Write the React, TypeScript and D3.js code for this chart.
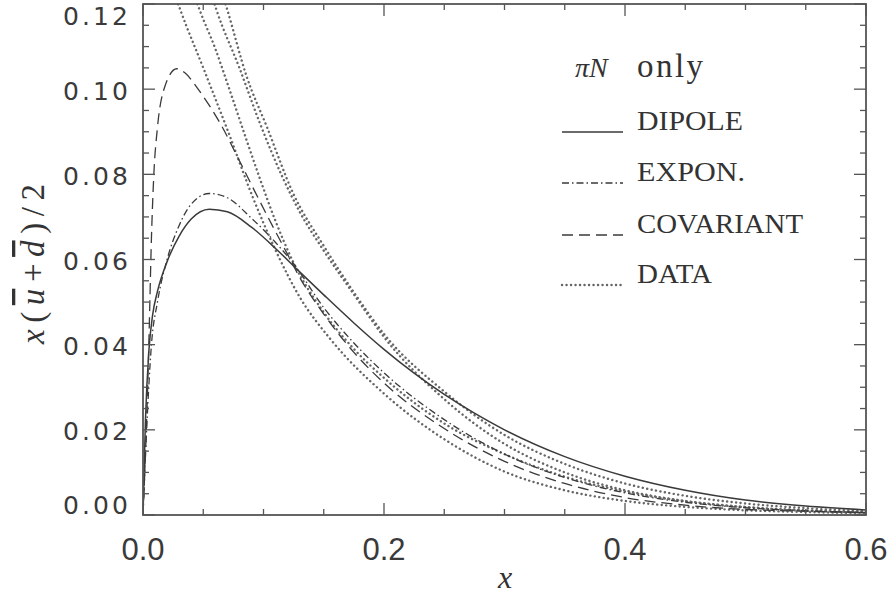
import React from 'react';
import * as d3 from 'd3';

// ---- axis ticks ----
const xTicks = [0, 0.2, 0.4, 0.6];
const xTickLabels = ['0.0', '0.2', '0.4', '0.6'];
const xMinorTicks = [0.05, 0.1, 0.15, 0.25, 0.3, 0.35, 0.45, 0.5, 0.55];
const yTicks = [0, 0.02, 0.04, 0.06, 0.08, 0.1, 0.12];
const yTickLabels = ['0.00', '0.02', '0.04', '0.06', '0.08', '0.10', '0.12'];
const yMinorTicks = d3.range(0, 25).map((i) => i * 0.005).filter((v) => Math.round(v * 1000) % 20 !== 0);

// ---- series (x, value) ----
const dipole: [number, number][] = [
  [0, 0], [0.002, 0.022], [0.005, 0.039], [0.008, 0.047], [0.012, 0.0525], [0.02, 0.0595],
  [0.03, 0.0655], [0.04, 0.0695], [0.055, 0.0718], [0.07, 0.0712], [0.09, 0.0676],
  [0.11, 0.0626], [0.13, 0.0571], [0.15, 0.0517], [0.175, 0.0451], [0.2, 0.0389],
  [0.225, 0.0333], [0.25, 0.0283], [0.275, 0.0239], [0.3, 0.02], [0.35, 0.0137],
  [0.4, 0.0091], [0.45, 0.0058], [0.5, 0.0035], [0.55, 0.0021], [0.6, 0.0012],
];
const expon: [number, number][] = [
  [0, 0], [0.003, 0.02], [0.007, 0.04], [0.012, 0.05], [0.02, 0.06], [0.03, 0.068],
  [0.04, 0.073], [0.055, 0.0755], [0.07, 0.0745], [0.09, 0.0697], [0.11, 0.064],
  [0.125, 0.059], [0.15, 0.0487], [0.175, 0.0404], [0.2, 0.0334], [0.25, 0.0224],
  [0.3, 0.0143], [0.35, 0.0088], [0.4, 0.0052], [0.45, 0.003], [0.5, 0.0017],
  [0.55, 0.001], [0.6, 0.0006],
];
const covariant: [number, number][] = [
  [0, 0], [0.003, 0.022], [0.005, 0.042], [0.007, 0.065], [0.009, 0.08], [0.012, 0.091],
  [0.018, 0.1005], [0.028, 0.1048], [0.035, 0.1038], [0.045, 0.1003], [0.055, 0.0962],
  [0.064, 0.092], [0.08, 0.0832], [0.091, 0.077], [0.108, 0.0676], [0.12, 0.0612],
  [0.13, 0.0558], [0.15, 0.0472], [0.175, 0.0382], [0.2, 0.031], [0.25, 0.0203],
  [0.3, 0.0126], [0.35, 0.0074], [0.4, 0.0041], [0.45, 0.0023], [0.5, 0.0013],
  [0.55, 0.0009], [0.6, 0.0006],
];
const dataA: [number, number][] = [
  [0.022, 0.126], [0.031, 0.1186], [0.05, 0.105], [0.07, 0.0905], [0.091, 0.0747],
  [0.11, 0.0622], [0.13, 0.0512], [0.155, 0.0415], [0.2, 0.0285], [0.25, 0.0178],
  [0.3, 0.0102], [0.35, 0.0058], [0.4, 0.0033], [0.45, 0.0019], [0.5, 0.0011],
  [0.55, 0.0007], [0.6, 0.0004],
];
const dataB: [number, number][] = [
  [0.038, 0.126], [0.047, 0.1186], [0.06, 0.1095], [0.07, 0.1014], [0.086, 0.088],
  [0.097, 0.079], [0.11, 0.069], [0.125, 0.0592], [0.15, 0.0476], [0.175, 0.039],
  [0.2, 0.0322], [0.25, 0.0215], [0.3, 0.0143], [0.35, 0.009], [0.4, 0.0055],
  [0.45, 0.0032], [0.5, 0.0018], [0.55, 0.001], [0.6, 0.0006],
];
const dataC: [number, number][] = [
  [0.053, 0.126], [0.061, 0.1186], [0.08, 0.105], [0.097, 0.092], [0.116, 0.0792],
  [0.13, 0.0712], [0.149, 0.0625], [0.175, 0.0518], [0.2, 0.0418], [0.25, 0.0272],
  [0.3, 0.0167], [0.35, 0.01], [0.4, 0.0058], [0.45, 0.0033], [0.5, 0.0019],
  [0.55, 0.0011], [0.6, 0.0006],
];
const dataD: [number, number][] = [
  [0.062, 0.126], [0.07, 0.1186], [0.086, 0.103], [0.103, 0.091], [0.1245, 0.0756],
  [0.15, 0.0632], [0.175, 0.0523], [0.2, 0.0425], [0.25, 0.029], [0.3, 0.0188],
  [0.35, 0.012], [0.4, 0.0074], [0.45, 0.0045], [0.5, 0.0027], [0.55, 0.0016],
  [0.6, 0.0009],
];
const legendLabels = ['DIPOLE', 'EXPON.', 'COVARIANT', 'DATA'];

const W = 889;
const H = 602;
const L = 143, R = 866, T = 4, B = 515;

const styles = [
  { stroke: '#3a3a3a', width: 1.5, dash: 'none', cap: 'butt' },
  { stroke: '#3a3a3a', width: 1.3, dash: '7,3,1.5,3', cap: 'butt' },
  { stroke: '#3a3a3a', width: 1.3, dash: '11,6', cap: 'butt' },
  { stroke: '#666', width: 2.4, dash: '0.1,4.4', cap: 'round' },
];

export default function App() {
  const x = d3.scaleLinear().domain([0, 0.6]).range([L, R]);
  const y = d3.scaleLinear().domain([0, 0.12]).range([B, T]);
  const line = d3
    .line<[number, number]>()
    .x((d) => x(d[0]))
    .y((d) => y(d[1]))
    .curve(d3.curveMonotoneX);

  const series: { d: [number, number][]; s: number }[] = [
    { d: dataA, s: 3 },
    { d: dataB, s: 3 },
    { d: dataC, s: 3 },
    { d: dataD, s: 3 },
    { d: covariant, s: 2 },
    { d: expon, s: 1 },
    { d: dipole, s: 0 },
  ];

  const legendX0 = 562, legendX1 = 623, legendTextX = 637;
  const legendBase = [130, 181, 233, 283];
  const legendWidths = [106, 108, 166, 75];

  return (
    <svg
      width={W}
      height={H}
      style={{ position: 'absolute', left: 0, top: 0, background: '#fff' }}
    >
      <defs>
        <clipPath id="plot">
          <rect x={L} y={T} width={R - L} height={B - T} />
        </clipPath>
      </defs>
      <rect x={0} y={0} width={W} height={H} fill="#fff" />

      {/* curves */}
      <g clipPath="url(#plot)" fill="none">
        {series.map((sr, i) => {
          const st = styles[sr.s];
          return (
            <path
              key={i}
              d={line(sr.d) || ''}
              stroke={st.stroke}
              strokeWidth={st.width}
              strokeDasharray={st.dash}
              strokeLinecap={st.cap as any}
            />
          );
        })}
      </g>

      {/* frame */}
      <rect x={L} y={T} width={R - L} height={B - T} fill="none" stroke="#555" strokeWidth={1.8} />

      {/* ticks */}
      <g stroke="#555" strokeWidth={1.3}>
        {yTicks.map((v) => (
          <g key={'yt' + v}>
            <line x1={L} x2={L + 12} y1={y(v)} y2={y(v)} />
            <line x1={R} x2={R - 12} y1={y(v)} y2={y(v)} />
          </g>
        ))}
        {yMinorTicks.map((v) => (
          <g key={'ym' + v}>
            <line x1={L} x2={L + 6} y1={y(v)} y2={y(v)} />
            <line x1={R} x2={R - 6} y1={y(v)} y2={y(v)} />
          </g>
        ))}
        {xTicks.map((v) => (
          <g key={'xt' + v}>
            <line x1={x(v)} x2={x(v)} y1={B} y2={B - 12} />
            <line x1={x(v)} x2={x(v)} y1={T} y2={T + 12} />
          </g>
        ))}
        {xMinorTicks.map((v) => (
          <g key={'xm' + v}>
            <line x1={x(v)} x2={x(v)} y1={B} y2={B - 6} />
            <line x1={x(v)} x2={x(v)} y1={T} y2={T + 6} />
          </g>
        ))}
      </g>

      {/* y tick labels */}
      <g fontFamily="'DejaVu Sans', 'Liberation Sans', sans-serif" fontSize={25} fill="#3a3a3a">
        {yTicks.map((v, i) => (
          <text
            key={'yl' + v}
            x={128}
            y={Math.min(505, Math.max(16, y(v) + 2))}
            textAnchor="end"
            dominantBaseline="central"
            textLength={65}
            lengthAdjust="spacing"
          >
            {yTickLabels[i]}
          </text>
        ))}
      </g>

      {/* x tick labels */}
      <g fontFamily="'Liberation Sans', Arial, sans-serif" fontSize={31} fill="#3a3a3a">
        {xTicks.map((v, i) => (
          <text key={'xl' + v} x={x(v)} y={560} textAnchor="middle">
            {xTickLabels[i]}
          </text>
        ))}
      </g>

      {/* axis titles */}
      <text
        x={505}
        y={588}
        textAnchor="middle"
        fontFamily="'Liberation Serif', 'DejaVu Serif', serif"
        fontStyle="italic"
        fontSize={32}
        fill="#333"
      >
        x
      </text>
      <text
        transform="translate(44,264) rotate(-90)"
        textAnchor="middle"
        fontFamily="'Liberation Serif', 'DejaVu Serif', serif"
        fontSize={33}
        fill="#333"
        textLength={160}
        lengthAdjust="spacing"
      >
        <tspan fontStyle="italic">x</tspan>
        <tspan>(</tspan>
        <tspan fontStyle="italic" textDecoration="overline">u</tspan>
        <tspan>+</tspan>
        <tspan fontStyle="italic" textDecoration="overline">d</tspan>
        <tspan>)/2</tspan>
      </text>

      {/* legend */}
      <g fontFamily="'Liberation Serif', 'DejaVu Serif', serif" fill="#333">
        <text x={575} y={77} fontSize={28}>
          <tspan fontStyle="italic">πN</tspan>
        </text>
        <text x={637} y={77} fontSize={33} textLength={66} lengthAdjust="spacing">
          only
        </text>
        {legendLabels.map((lab, i) => {
          const st = styles[i];
          return (
            <g key={lab}>
              <line
                x1={legendX0}
                x2={legendX1}
                y1={legendBase[i] + 2}
                y2={legendBase[i] + 2}
                stroke={st.stroke}
                strokeWidth={st.width}
                strokeDasharray={st.dash}
                strokeLinecap={st.cap as any}
              />
              <text
                x={legendTextX}
                y={legendBase[i]}
                fontSize={27}
                textLength={legendWidths[i]}
                lengthAdjust="spacingAndGlyphs"
              >
                {lab}
              </text>
            </g>
          );
        })}
      </g>
    </svg>
  );
}
